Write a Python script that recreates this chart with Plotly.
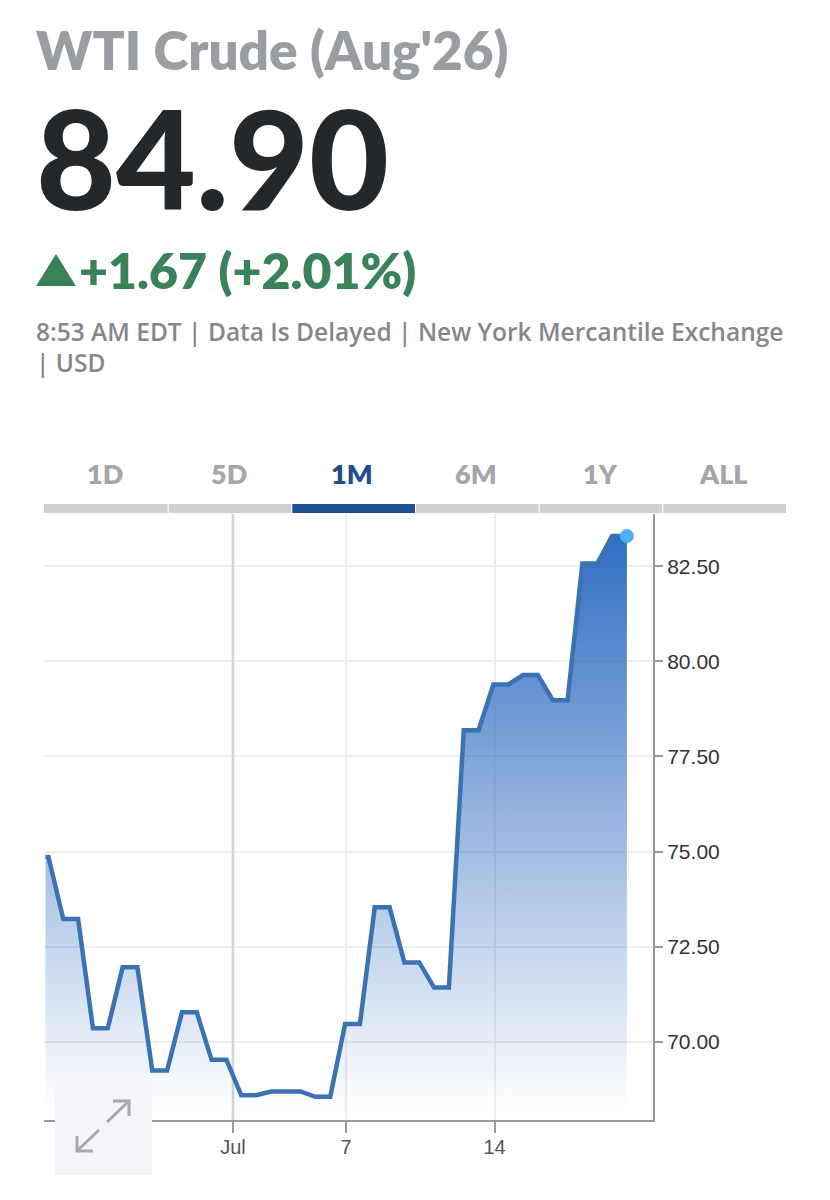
import plotly.graph_objects as go

W, H = 830, 1200
L, R, T, B = 44, 653, 514, 1120

# half-session steps along the x axis, price
steps = [-0.2, 0, 1, 2, 3, 4, 5, 6, 7, 8, 9, 10, 11, 12, 13, 14, 15, 16, 17, 18, 19, 20, 21, 22, 23, 24, 25,
         26, 27, 28, 29, 30, 31, 32, 33, 34, 35, 36, 37, 38, 39]
prices = [74.86, 74.86, 73.23, 73.23, 70.36, 70.36, 71.96, 71.96, 69.25, 69.25, 70.78, 70.78, 69.53, 69.53,
          68.60, 68.60, 68.70, 68.70, 68.70, 68.56, 68.56, 70.47, 70.47, 73.54, 73.54, 72.09, 72.09, 71.43,
          71.43, 78.19, 78.19, 79.39, 79.39, 79.64, 79.64, 78.98, 78.98, 82.57, 82.57, 83.29, 83.29]
y_ticks = [70, 72.5, 75, 77.5, 80, 82.5]
y_labels = ['70.00', '72.50', '75.00', '77.50', '80.00', '82.50']
x_ticks = [12.44, 20.06, 30.08]
x_labels = ['Jul', '7', '14']
tabs = ['1D', '5D', '1M', '6M', '1Y', 'ALL']
active_tab = '1M'
y_range = [67.95, 83.87]

HEAD_FONT = 'Lato'
AXIS_FONT = 'Liberation Sans'


def px(x):
    return (x - L) / (R - L)


def py(y):
    return (B - y) / (B - T)


def label(text, x, y, size, color, anchor='left', weight=700, family=HEAD_FONT):
    return dict(text=text, x=px(x), y=py(y), xref='paper', yref='paper', xanchor=anchor, yanchor='middle',
                showarrow=False, font=dict(family=family, size=size, color=color, weight=weight))


def rect(x0, y0, x1, y1, color):
    return dict(type='rect', xref='paper', yref='paper', x0=px(x0), x1=px(x1), y0=py(y0), y1=py(y1),
                fillcolor=color, line_width=0, layer='above')


def path(points, color, width=0, fill=None, close=False):
    d = 'M' + ' L'.join(f'{px(a):.5f},{py(b):.5f}' for a, b in points) + (' Z' if close else '')
    return dict(type='path', xref='paper', yref='paper', path=d, fillcolor=fill,
                line=dict(color=color, width=width), layer='above')


fig = go.Figure()
# month gridline is darker than the others, drawn under the area
fig.add_trace(go.Scatter(x=[x_ticks[0], x_ticks[0]], y=y_range, mode='lines',
                         line=dict(color='#d4d4d4', width=2.5), hoverinfo='skip'))
fig.add_trace(go.Scatter(
    x=steps, y=prices, mode='lines', line=dict(color='#3b72b3', width=4.5), fill='tozeroy',
    fillgradient=dict(type='vertical', start=68.2, stop=83.3,
                      colorscale=[[0, 'rgba(48,109,193,0)'], [1, 'rgba(48,109,193,1)']]),
    hoverinfo='skip'))
fig.add_trace(go.Scatter(x=steps[-1:], y=prices[-1:], mode='markers', cliponaxis=False,
                         marker=dict(color='#4fb0f6', size=14), hoverinfo='skip'))

shapes = []
# range selector bar
tab_w = (786 - 44) / len(tabs)
for i, t in enumerate(tabs):
    shapes.append(rect(44 + i * tab_w + (1 if i else 0), 504, 44 + (i + 1) * tab_w, 513,
                       '#20508f' if t == active_tab else '#cfd1d6'))
# expand button
shapes.append(rect(55, 1078, 152, 1175, '#f4f4f9'))
shapes.append(path([(107, 1122), (129, 1101)], '#a9a9a9', 3))
shapes.append(path([(113, 1101), (129, 1101), (129, 1116)], '#a9a9a9', 3))
shapes.append(path([(99, 1130), (77, 1151)], '#a9a9a9', 3))
shapes.append(path([(77, 1136), (77, 1151), (93, 1151)], '#a9a9a9', 3))
# up triangle
shapes.append(path([(36, 286), (56, 254), (76, 286)], '#3a8259', 0, fill='#3a8259', close=True))

annotations = [
    label("WTI Crude (Aug'26)", 34, 49, 53, '#9a9da1', weight=800),
    label('84.90', 34, 156, 138, '#25282b', weight=900),
    label('+1.67 (+2.01%)', 77, 270, 50, '#3a8259', weight=800),
    label('8:53 AM EDT | Data Is Delayed | New York Mercantile Exchange', 34, 331, 24.5, '#85878b',
          weight=600, family='Open Sans'),
    label('| USD', 34, 362, 24.5, '#85878b', weight=600, family='Open Sans'),
]
tab_centers = [105, 229, 352, 476, 600, 723]
for t, c in zip(tabs, tab_centers):
    annotations.append(label(t, c, 473, 27, '#1f4e8c' if t == active_tab else '#a4a6aa', anchor='center',
                             weight=800))

fig.update_layout(
    width=W, height=H, margin=dict(l=L, r=W - R, t=T, b=H - B),
    paper_bgcolor='white', plot_bgcolor='white', showlegend=False,
    shapes=shapes, annotations=annotations)
fig.update_xaxes(
    range=[-0.3, 40.76], tickvals=x_ticks, ticktext=x_labels, ticks='outside', ticklen=11, tickwidth=2,
    tickcolor='#999999', showline=True, linecolor='#999999', linewidth=2, gridcolor='#eeeeee', gridwidth=2,
    zeroline=False, ticklabelstandoff=-3, tickfont=dict(family=AXIS_FONT, size=20, color='#555555'))
fig.update_yaxes(
    range=y_range, side='right', tickvals=y_ticks, ticktext=y_labels, ticks='outside', ticklen=8,
    tickwidth=2, tickcolor='#999999', showline=True, linecolor='#999999', linewidth=2, gridcolor='#eeeeee',
    gridwidth=2, zeroline=False, tickfont=dict(family=AXIS_FONT, size=21, color='#333333'))

fig.write_html("out.html", config=dict(displayModeBar=False), post_script="document.body.style.margin='0';")
